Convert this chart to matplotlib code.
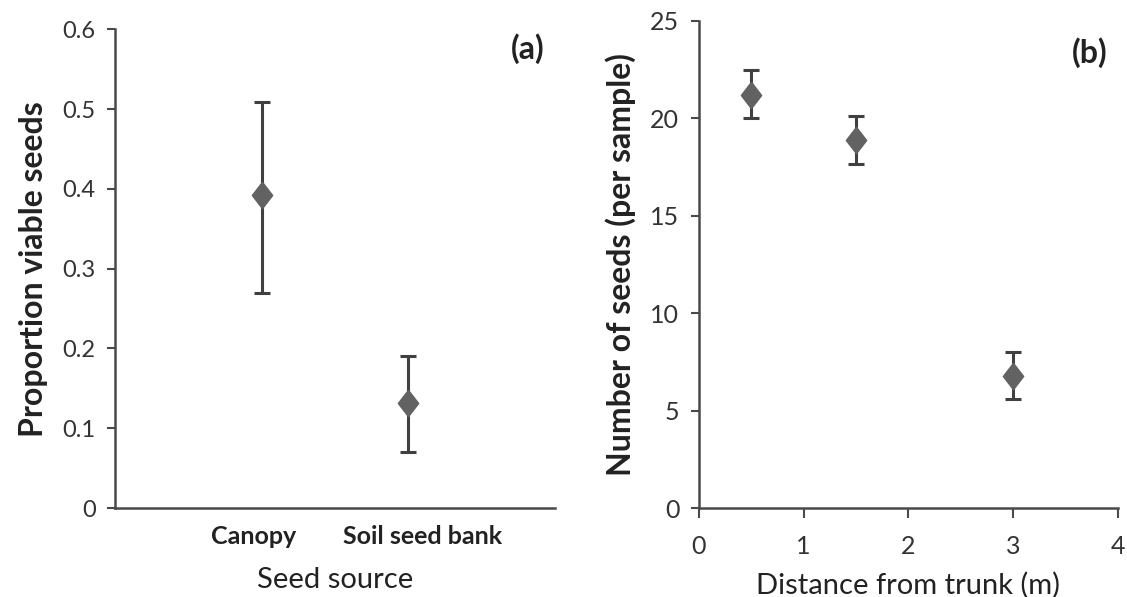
import numpy as np
import matplotlib
matplotlib.use("Agg")
import matplotlib.pyplot as plt
from matplotlib.transforms import ScaledTranslation

plt.rcParams['font.family'] = ['Lato', 'DejaVu Sans']

# panel (a): viability by seed source
sources = ['Canopy', 'Soil seed bank']
src_pos = [1, 2]
prop_mean = [0.392, 0.132]
prop_hi = [0.509, 0.190]
prop_lo = [0.270, 0.070]

# panel (b): seeds vs distance from trunk
dist = [0.5, 1.5, 3.0]
seeds_mean = [21.2, 18.9, 6.8]
seeds_hi = [22.5, 20.1, 8.0]
seeds_lo = [20.0, 17.65, 5.6]

mcol = '#626262'
ecol = '#404040'
acol = '#4a4a4a'
tcol = '#333333'
diamond = [(0, 1), (0.77, 0), (0, -1), (-0.77, 0), (0, 1)]

fig = plt.figure(figsize=(11.27, 5.97), dpi=100)
ax1 = fig.add_axes([0.102, 0.149, 0.3905, 0.802])
ax2 = fig.add_axes([0.620, 0.149, 0.372, 0.816])

yerr_a = [np.subtract(prop_mean, prop_lo), np.subtract(prop_hi, prop_mean)]
ax1.errorbar(src_pos, prop_mean, yerr=yerr_a, fmt='none', ecolor=ecol,
             elinewidth=2.2, capsize=6, capthick=2.2)
ax1.plot(src_pos, prop_mean, ls='none', marker=diamond, ms=19, color=mcol, mec=mcol)
ax1.set_xlim(0, 3)
ax1.set_ylim(0, 0.6)
ax1.set_yticks(np.arange(0, 0.61, 0.1))
ax1.set_yticklabels(['0', '0.1', '0.2', '0.3', '0.4', '0.5', '0.6'])
ax1.set_xticks(src_pos)
ax1.set_xticklabels(sources, fontweight='bold', fontsize=18)
ax1.tick_params(axis='x', length=0, pad=12, labelcolor='#222222')
ax1.tick_params(axis='y', length=6, width=1.5, colors=acol, labelcolor=tcol, labelsize=17, pad=8)
# category labels sit a little apart from their points, as in the source figure
for lab, dx in zip(ax1.get_xticklabels(), [-6, 10]):
    lab.set_transform(lab.get_transform() + ScaledTranslation(dx / 72, 0, fig.dpi_scale_trans))
ax1.set_ylabel('Proportion viable seeds', fontsize=23, fontweight='bold', color='#222222', labelpad=10)
ax1.set_xlabel('Seed source', fontsize=21, color='#222222', labelpad=14)
ax1.text(0.975, 0.96, '(a)', transform=ax1.transAxes, ha='right', va='center',
         fontsize=23, fontweight='bold', color='#222222')

yerr_b = [np.subtract(seeds_mean, seeds_lo), np.subtract(seeds_hi, seeds_mean)]
ax2.errorbar(dist, seeds_mean, yerr=yerr_b, fmt='none', ecolor=ecol,
             elinewidth=2.2, capsize=6, capthick=2.2)
ax2.plot(dist, seeds_mean, ls='none', marker=diamond, ms=19, color=mcol, mec=mcol)
ax2.set_xlim(0, 4)
ax2.set_ylim(0, 25)
ax2.set_xticks([0, 1, 2, 3, 4])
ax2.set_yticks([0, 5, 10, 15, 20, 25])
ax2.tick_params(axis='y', length=6, width=1.5, colors=acol, labelcolor=tcol, labelsize=18, pad=8)
ax2.tick_params(axis='x', length=7.5, width=1.5, colors=acol, labelcolor=tcol, labelsize=18, pad=12)
ax2.set_ylabel('Number of seeds (per sample)', fontsize=23, fontweight='bold', color='#222222', labelpad=10)
ax2.set_xlabel('Distance from trunk (m)', fontsize=21, color='#222222', labelpad=10)
ax2.text(0.975, 0.935, '(b)', transform=ax2.transAxes, ha='right', va='center',
         fontsize=23, fontweight='bold', color='#222222')

for ax in (ax1, ax2):
    for s in ('top', 'right'):
        ax.spines[s].set_visible(False)
    for s in ('left', 'bottom'):
        ax.spines[s].set_color(acol)
        ax.spines[s].set_linewidth(1.8)

fig.savefig('out.png', dpi=100)
